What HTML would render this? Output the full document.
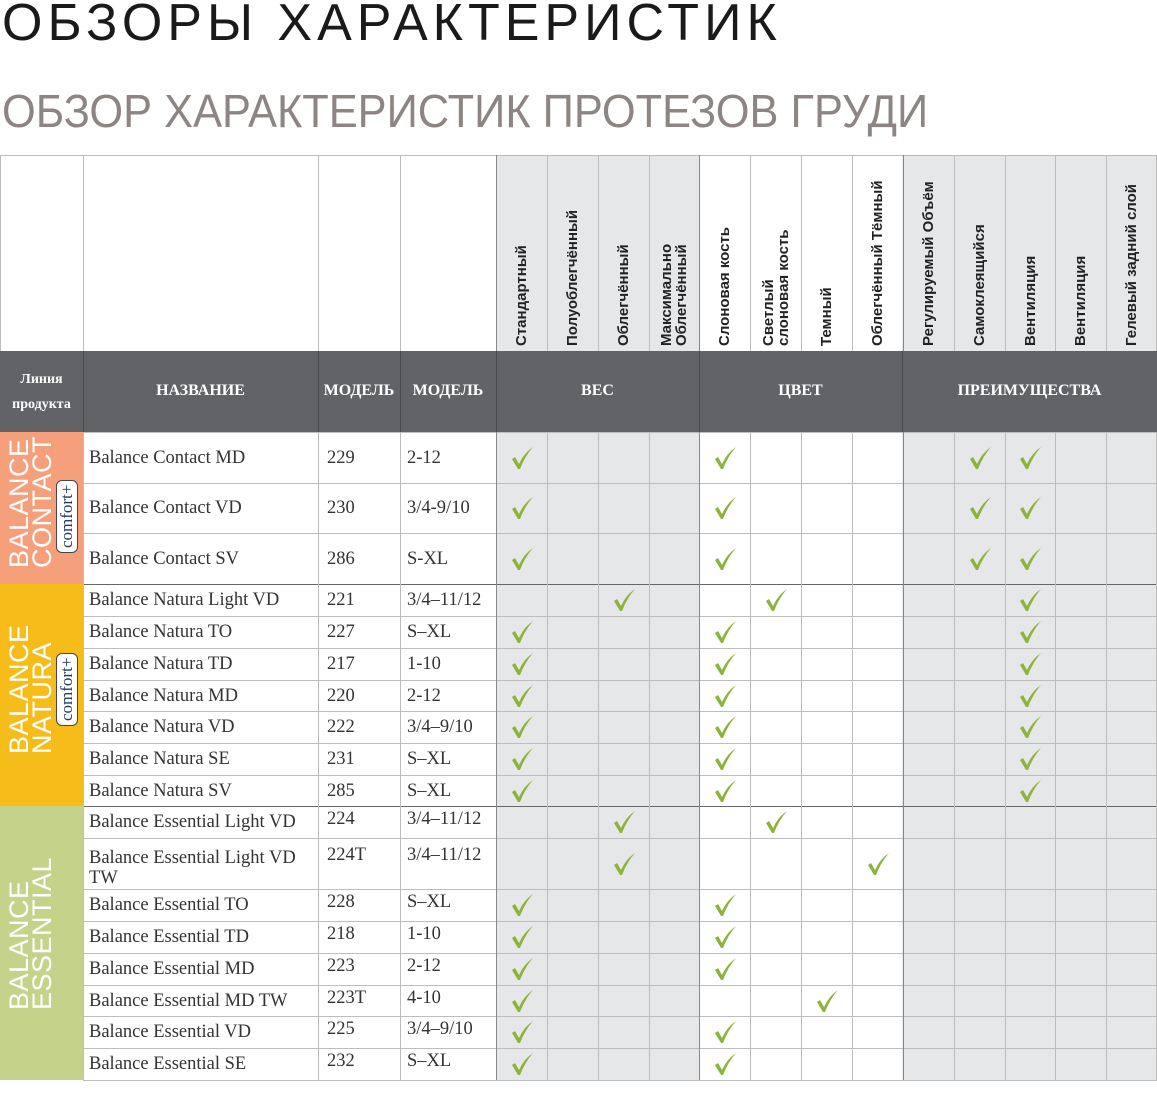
<!DOCTYPE html>
<html><head><meta charset="utf-8">
<style>
html,body{margin:0;padding:0;background:#fff;}
body{width:1157px;height:1080px;position:relative;overflow:hidden;font-family:"Liberation Serif",serif;}
.a{position:absolute;box-sizing:border-box;}
.t1{left:2px;top:-7px;font-family:"Liberation Sans",sans-serif;font-size:52px;line-height:normal;color:#1a1a1a;letter-spacing:5px;white-space:nowrap;}
.t2{left:2px;top:84px;font-family:"Liberation Sans",sans-serif;font-size:46px;line-height:normal;color:#8c8583;white-space:nowrap;transform:scaleX(0.943);transform-origin:0 0;}
.cell{font-size:18.5px;color:#333;white-space:nowrap;line-height:20px;}
.vh{font-family:"Liberation Sans",sans-serif;font-weight:bold;font-size:15px;color:#222;line-height:15px;transform:rotate(-90deg);transform-origin:0 0;white-space:nowrap;}
.hd{color:#fff;font-weight:bold;font-size:16px;text-align:center;}
.side{color:#fff;font-family:"Liberation Sans",sans-serif;font-size:27px;line-height:23px;transform:rotate(-90deg);transform-origin:0 0;white-space:nowrap;letter-spacing:0.5px;}
.badge{background:#fff;border:1px solid #445;border-radius:6px;color:#223a66;font-size:17px;line-height:20px;padding:0 4px;transform:rotate(-90deg);transform-origin:0 0;white-space:nowrap;}
</style></head><body>
<div class="a t1">ОБЗОРЫ ХАРАКТЕРИСТИК</div>
<div class="a t2">ОБЗОР ХАРАКТЕРИСТИК ПРОТЕЗОВ ГРУДИ</div>
<div id="g"></div>
<script>
var g=document.getElementById('g'),h='';
function box(x,y,w,hh,st,cls,txt){h+='<div class="a '+(cls||'')+'" style="left:'+x+'px;top:'+y+'px;width:'+w+'px;height:'+hh+'px;'+(st||'')+'">'+(txt||'')+'</div>';}
var cx=[0,83,318,400,496];for(var i=1;i<=13;i++)cx.push(Math.round(496+i*50.85));
var rows=[432,483,533,584,616,648,680,711,743,775,806,838,889,921,953,985,1016,1048,1080];
box(496,155,203,925,'background:#e6e7e8');
box(902,155,255,925,'background:#e6e7e8');
box(0,155,1157,1,'background:#bbb');
for(var r=0;r<rows.length;r++){var y=rows[r];var x0=(y==584||y==806||y==432)?0:83;box(x0,y,1157-x0,1,'background:'+((y==584||y==806)?'#666':'#bdbdbd'));}
for(var i=1;i<cx.length;i++){box(cx[i],155,1,925,'background:'+(i==4||i==8||i==12?'#888':'#bdbdbd'));}
box(0,155,1,925,'background:#bdbdbd');box(1156,155,1,925,'background:#bdbdbd');
box(0,351,1157,81,'background:#626366');
var bl=[83,318,400,496,699,902];for(var i=0;i<bl.length;i++)box(bl[i],351,1,81,'background:#4a4b4e');
box(0,432,83,152,'background:#f5a07a');
box(0,584,83,222,'background:#f6bd1a');
box(0,806,83,274,'background:#c5d38a');
var vh=[['Стандартный'],['Полуоблегчённый'],['Облегчённый'],['Максимально','Облегчённый'],['Слоновая кость'],['Светлый','слоновая кость'],['Темный'],['Облегчённый Тёмный'],['Регулируемый Объём'],['Самоклеящийся'],['Вентиляция'],['Вентиляция'],['Гелевый задний слой']];
for(var i=0;i<13;i++){var l=vh[i];var cw=cx[i+5]-cx[i+4];var tw=l.length*15;var x=cx[i+4]+(cw-tw)/2;h+='<div class="a vh" style="left:'+x+'px;top:346px">'+l.join('<br>')+'</div>';}
box(0,367,83,50,'font-size:14px;line-height:25px','hd','Линия<br>продукта');
box(83,382,235,20,'','hd','НАЗВАНИЕ');
box(318,382,82,20,'','hd','МОДЕЛЬ');
box(400,382,96,20,'','hd','МОДЕЛЬ');
box(496,382,203,20,'','hd','ВЕС');
box(699,382,203,20,'','hd','ЦВЕТ');
box(902,382,255,20,'','hd','ПРЕИМУЩЕСТВА');
var d=[
['Balance Contact MD','229','2-12',[0,4,9,10]],
['Balance Contact VD','230','3/4-9/10',[0,4,9,10]],
['Balance Contact SV','286','S-XL',[0,4,9,10]],
['Balance Natura Light VD','221','3/4–11/12',[2,5,10]],
['Balance Natura TO','227','S–XL',[0,4,10]],
['Balance Natura TD','217','1-10',[0,4,10]],
['Balance Natura MD','220','2-12',[0,4,10]],
['Balance Natura VD','222','3/4–9/10',[0,4,10]],
['Balance Natura SE','231','S–XL',[0,4,10]],
['Balance Natura SV','285','S–XL',[0,4,10]],
['Balance Essential Light VD','224','3/4–11/12',[2,5]],
['Balance Essential Light VD<br>TW','224T','3/4–11/12',[2,7]],
['Balance Essential TO','228','S–XL',[0,4]],
['Balance Essential TD','218','1-10',[0,4]],
['Balance Essential MD','223','2-12',[0,4]],
['Balance Essential MD TW','223T','4-10',[0,6]],
['Balance Essential VD','225','3/4–9/10',[0,4]],
['Balance Essential SE','232','S–XL',[0,4]]];
var chk='<svg width="24" height="24" viewBox="0 0 24 24"><path d="M2 13 L5 11 L9 18 Q14 7 23 1 Q15 10 10 23 L8 23 Z" fill="#8db33a"/></svg>';
for(var r=0;r<d.length;r++){var y0=rows[r],y1=rows[r+1],mid=(y0+y1)/2;var two=d[r][0].indexOf('<br>')>0;var ty=two?y0+10:mid-10;var ty2=(r>=10)?ty-3:ty;
box(89,ty,230,40,'','cell',d[r][0]);box(327,ty2,70,20,'','cell',d[r][1]);box(407,ty2,90,20,'','cell',d[r][2]);
var cs=d[r][3];for(var k=0;k<cs.length;k++){var c=cs[k];var xc=(cx[c+4]+cx[c+5])/2;box(xc-12,mid-12,24,24,'','',chk);}}
h+='<div class="a side" style="left:8px;top:568px">BALANCE<br>CONTACT</div>';
h+='<div class="a badge" style="left:56px;top:553px">comfort+</div>';
h+='<div class="a side" style="left:8px;top:754px">BALANCE<br>NATURA</div>';
h+='<div class="a badge" style="left:56px;top:726px">comfort+</div>';
h+='<div class="a side" style="left:8px;top:1010px">BALANCE<br>ESSENTIAL</div>';
g.innerHTML=h;
</script>
</body></html>
